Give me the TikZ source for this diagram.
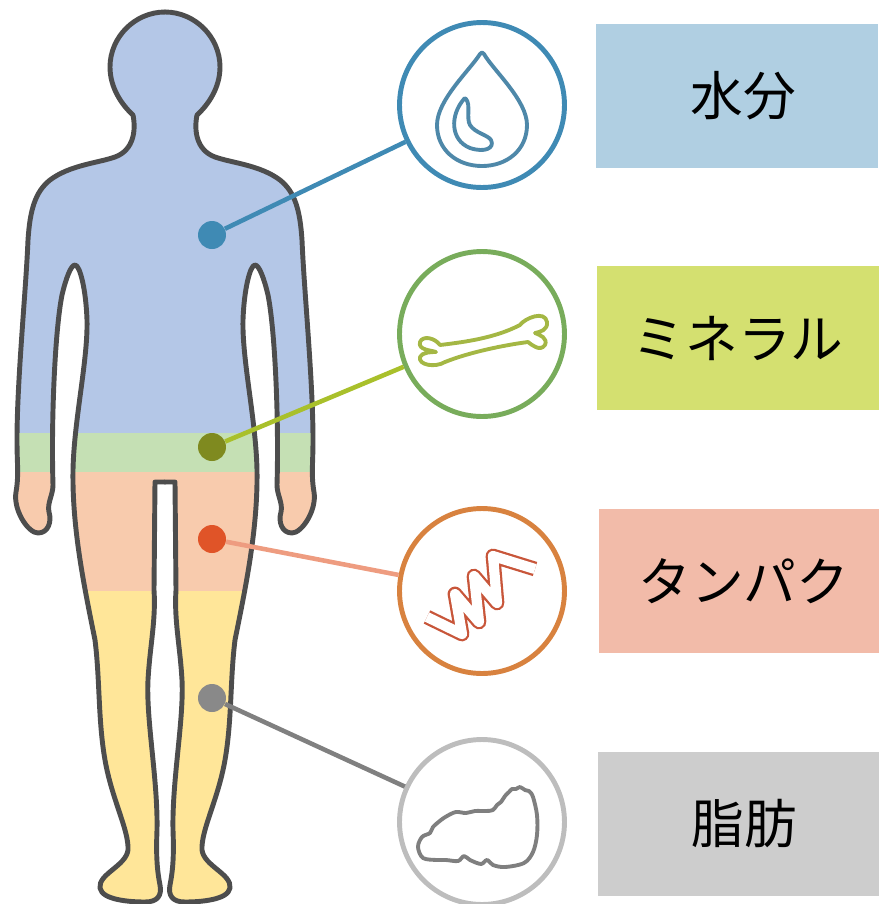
\documentclass[tikz,border=0pt]{standalone}
\usepackage{fontspec}
\setmainfont{Noto Sans CJK JP}
\usetikzlibrary{positioning}

\definecolor{outline}{HTML}{4D4D4D}
\definecolor{bodyblue}{HTML}{B4C7E7}
\definecolor{bodygreen}{HTML}{C5E0B4}
\definecolor{bodypeach}{HTML}{F8CBAD}
\definecolor{bodyyellow}{HTML}{FFE699}
\definecolor{waterring}{HTML}{3F8AB4}
\definecolor{watericon}{HTML}{4E88A9}
\definecolor{waterbox}{HTML}{B0CFE2}
\definecolor{minring}{HTML}{78AC5B}
\definecolor{minicon}{HTML}{A4B744}
\definecolor{minline}{HTML}{A9C02B}
\definecolor{mindot}{HTML}{7F8A1F}
\definecolor{minbox}{HTML}{D4E070}
\definecolor{proring}{HTML}{D8823F}
\definecolor{proicon}{HTML}{C8563A}
\definecolor{proline}{HTML}{EE9C80}
\definecolor{prodot}{HTML}{E05428}
\definecolor{probox}{HTML}{F2BBA9}
\definecolor{fatring}{HTML}{BDBDBD}
\definecolor{faticon}{HTML}{7F7F7F}
\definecolor{fatline}{HTML}{808080}
\definecolor{fatdot}{HTML}{898989}
\definecolor{fatbox}{HTML}{CDCDCD}

% left half of the figure, top of the head down to the crotch
\newcommand{\halfbody}{(165,12) .. controls (135,12) and (110,37) .. (110,67)
  .. controls (110,88) and (122,105) .. (133,115)
  .. controls (136,130) and (134,150) .. (115,157)
  .. controls (98,163) and (70,165) .. (50,180)
  .. controls (35,192) and (30,210) .. (28,240)
  .. controls (26,290) and (17,380) .. (17,440)
  .. controls (17,465) and (19,475) .. (16,492)
  .. controls (13,510) and (28,533) .. (38,533)
  .. controls (48,533) and (52,522) .. (49,512)
  .. controls (47,503) and (53,495) .. (53,485)
  .. controls (51,420) and (55,330) .. (62,295)
  .. controls (66,278) and (71,265) .. (75,265)
  .. controls (80,265) and (86,290) .. (87,320)
  .. controls (88,360) and (74,420) .. (73,470)
  .. controls (72,530) and (85,590) .. (95,640)
  .. controls (100,680) and (98,720) .. (105,760)
  .. controls (112,800) and (129,830) .. (128,850)
  .. controls (126,866) and (98,874) .. (100,888)
  .. controls (102,900) and (130,902) .. (145,902)
  .. controls (158,902) and (162,895) .. (160,885)
  .. controls (157,870) and (156,855) .. (157,830)
  .. controls (158,780) and (146,720) .. (148,680)
  .. controls (150,645) and (156,620) .. (154,590)
  -- (155,482) -- (165,482)}

% coloured bands, clipped to one half, then its outline
\newcommand{\bodyhalf}{%
  \begin{scope}
    \clip \halfbody -- cycle;
    \fill[bodyblue] (0,0) rectangle (330,433);
    \fill[bodygreen] (0,433) rectangle (330,472);
    \fill[bodypeach] (0,472) rectangle (330,591);
    \fill[bodyyellow] (0,591) rectangle (330,904);
  \end{scope}
  \draw[outline, line width=2.8pt, line join=round, line cap=round] \halfbody;}

\tikzset{
  ring/.style={circle, draw, line width=2.8pt, minimum size=3.3cm, inner sep=0pt},
  spot/.style={circle, minimum size=0.56cm, inner sep=0pt},
  wire/.style={line width=2.6pt},
  tag/.style={minimum width=5.66cm, minimum height=2.9cm, inner sep=0pt,
    font=\fontsize{30}{36}\selectfont},
  glyph/.style={line width=2.2pt, line join=round, line cap=round}
}

\begin{document}
\begin{tikzpicture}[x=0.02cm, y=-0.02cm]
    \useasboundingbox (0,0) rectangle (879,904);

    % figure, both halves
    \bodyhalf
    \begin{scope}[cm={-1,0,0,1,(330,0)}]
      \bodyhalf
    \end{scope}

    % rings
    \node[ring, draw=waterring] (water) at (482,105) {};
    \node[ring, draw=minring] (mineral) at (482,334) {};
    \node[ring, draw=proring] (protein) at (482,591) {};
    \node[ring, draw=fatring] (fat) at (482,822) {};

    % labels
    \node[tag, fill=waterbox] (waterlbl) at (737,96) {\hspace*{0.25cm}水分};
    \node[tag, fill=minbox] (minerallbl) at (738,338) {ミネラル};
    \node[tag, fill=probox] (proteinlbl) at (740,581) {\hspace*{0.15cm}タンパク};
    \node[tag, fill=fatbox] (fatlbl) at (739,824) {\hspace*{0.2cm}脂肪};

    % spots on the figure
    \node[spot, fill=waterring] (waterpt) at (212,235) {};
    \node[spot, fill=mindot] (mineralpt) at (212,447) {};
    \node[spot, fill=prodot] (proteinpt) at (212,539) {};
    \node[spot, fill=fatdot] (fatpt) at (212,698) {};

    \draw[wire, waterring] (waterpt) -- (water);
    \draw[wire, minline] (mineralpt) -- (mineral);
    \draw[wire, proline] (proteinpt) -- (protein);
    \draw[wire, fatline] (fatpt) -- (fat);

    % drop
    \draw[glyph, watericon] (480,54) .. controls (470,70) and (437,100) .. (437,125)
      .. controls (437,150) and (457,166) .. (482,166)
      .. controls (507,166) and (527,150) .. (527,125)
      .. controls (527,100) and (493,70) .. (484,54)
      .. controls (483,52) and (481,52) .. cycle;
    \draw[glyph, watericon] (464,99) .. controls (450,115) and (450,140) .. (470,148)
      .. controls (485,153) and (495,148) .. (491,140)
      .. controls (488,135) and (475,133) .. (470,125)
      .. controls (466,118) and (471,105) .. (466,99)
      .. controls (465,98) and (464,98) .. cycle;

    % bone
    \draw[glyph, minicon] (440,345) .. controls (465,342) and (495,338) .. (520,325)
      .. controls (525,318) and (545,310) .. (547,322)
      .. controls (548,330) and (540,332) .. (535,333)
      .. controls (540,335) and (548,338) .. (545,345)
      .. controls (540,352) and (532,345) .. (528,342)
      .. controls (505,345) and (470,352) .. (445,362)
      .. controls (435,368) and (418,365) .. (420,357)
      .. controls (422,352) and (432,352) .. (436,352)
      .. controls (430,350) and (418,350) .. (420,342)
      .. controls (423,335) and (435,338) .. cycle;

    % ribbon
    \draw[proicon, line width=1.3pt, double=white, double distance=5.8pt, line join=round]
      (427,617) -- (462,634) -- (455,594) -- (479,622) -- (474,576)
      -- (497,603) -- (493,556) -- (535,569);

    % fat lump
    \draw[glyph, faticon] plot[smooth cycle, tension=0.55] coordinates {
      (433,827) (441,820) (447,816) (456,812) (466,813) (475,811) (486,811)
      (493,810) (497,805) (501,802) (505,796) (509,792) (512,789) (516,789)
      (520,787) (525,790) (529,791) (533,797) (537,815) (537,835) (533,852)
      (524,863) (505,867) (493,865) (487,860) (481,864) (470,860) (464,856)
      (458,861) (446,860) (437,860) (423,858) (418,847) (422,837) (430,833)};
\end{tikzpicture}
\end{document}
